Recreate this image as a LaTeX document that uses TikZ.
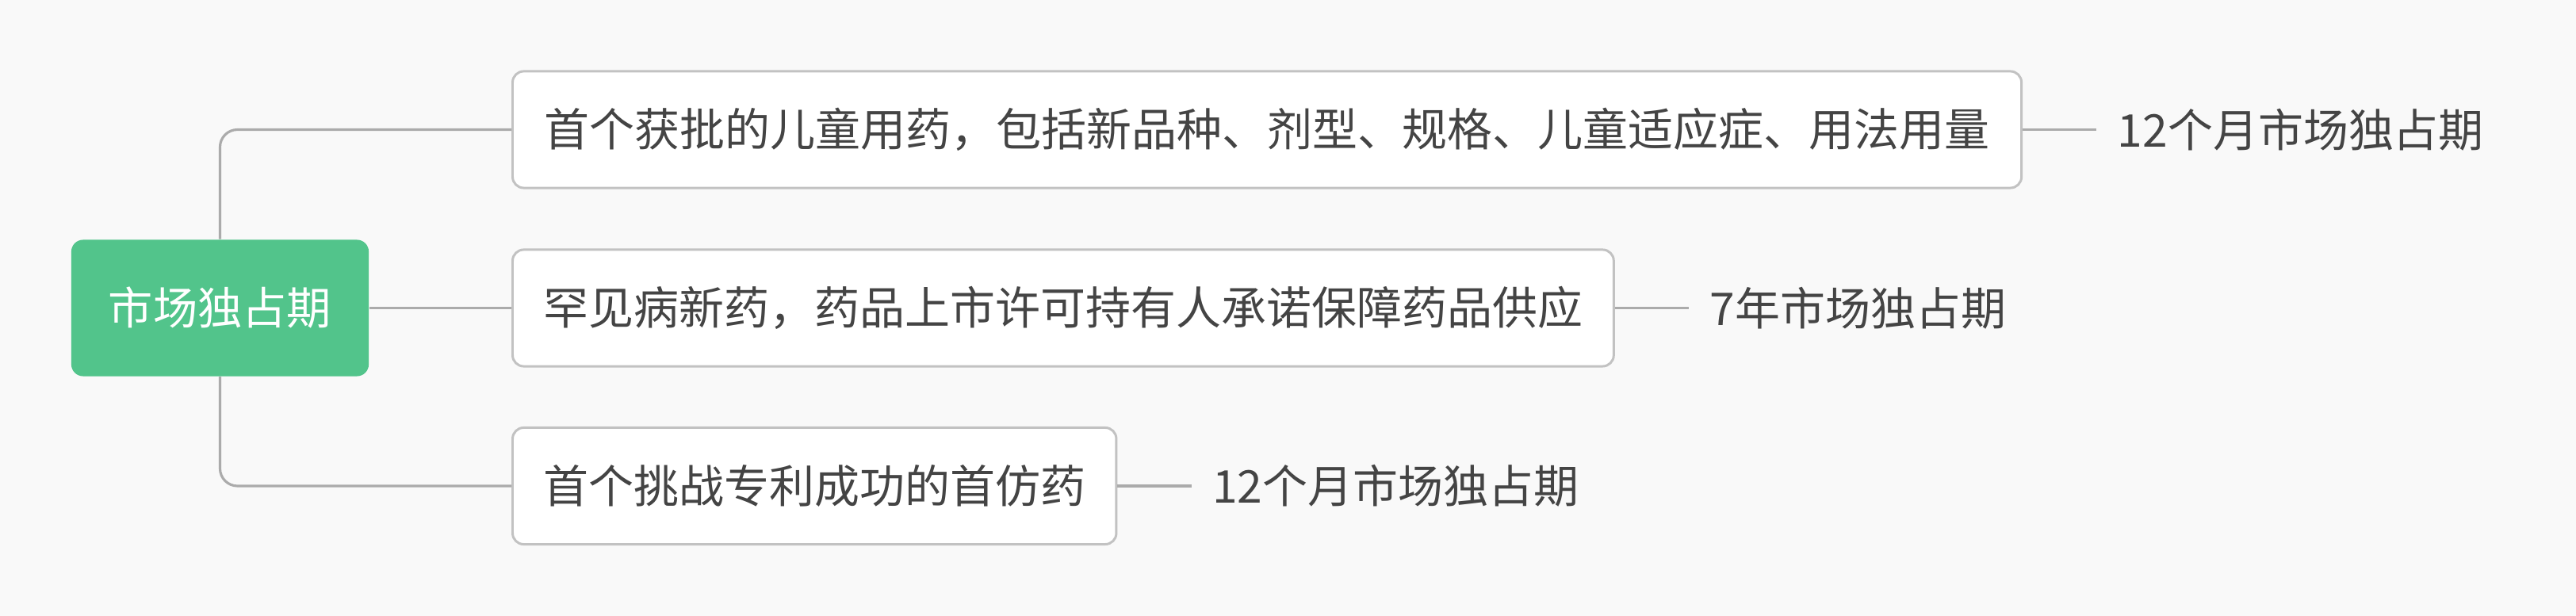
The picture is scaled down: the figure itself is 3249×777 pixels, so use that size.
\documentclass[tikz,border=0pt]{standalone}
\usepackage{fontspec}
\setmainfont{Noto Sans CJK SC}
\usepackage{tikz}
\usetikzlibrary{positioning}
\definecolor{bgcol}{HTML}{F9F9F9}
\definecolor{rootgreen}{HTML}{52C48B}
\definecolor{linegray}{HTML}{ABABAB}
\definecolor{boxgray}{HTML}{C2C2C2}
\definecolor{txtgray}{HTML}{444444}

\begin{document}
\begin{tikzpicture}[x=0.01cm, y=-0.01cm,
    rootbox/.style={fill=rootgreen, rounded corners=0.15cm, minimum width=3.75cm,
        minimum height=1.72cm, text=white, font=\fontsize{16pt}{18pt}\selectfont},
    itembox/.style={draw=boxgray, line width=0.85pt, fill=white, rounded corners=0.14cm,
        minimum height=1.47cm, text=txtgray, font=\fontsize{16.2pt}{18pt}\selectfont},
    periodlabel/.style={inner xsep=0.26cm, inner ysep=0pt, text=txtgray,
        font=\fontsize{16.2pt}{18pt}\selectfont},
    conn/.style={draw=linegray, line width=0.9pt}]
    % Background and margins
    \fill[bgcol] (0,0) rectangle (3249,777);
    \useasboundingbox (0,0) rectangle (3249,777);

    % Central topic
    \node[rootbox] (root) at (277.5,388.5) {市场独占期};

    % Branches
    \node[itembox, minimum width=19.02cm, anchor=west] (drug1) at (645,163.5)
        {首个获批的儿童用药，包括新品种、剂型、规格、儿童适应症、用法用量};
    \node[itembox, minimum width=13.88cm, anchor=west] (drug2) at (645,388.5)
        {罕见病新药，药品上市许可持有人承诺保障药品供应};
    \node[itembox, minimum width=7.61cm, anchor=west] (drug3) at (645,613)
        {首个挑战专利成功的首仿药};

    % Exclusivity periods
    \node[periodlabel, right=0.93cm of drug1] (period1) {12个月市场独占期};
    \node[periodlabel, right=0.93cm of drug2] (period2) {7年市场独占期};
    \node[periodlabel, right=0.93cm of drug3] (period3) {12个月市场独占期};

    % Connectors
    \draw[conn, rounded corners=0.22cm] (root.north) |- (drug1.west);
    \draw[conn] (root.east) -- (drug2.west);
    \draw[conn, rounded corners=0.22cm] (root.south) |- (drug3.west);
    \draw[conn] (drug1.east) -- (period1.west);
    \draw[conn] (drug2.east) -- (period2.west);
    \draw[conn] (drug3.east) -- (period3.west);
\end{tikzpicture}
\end{document}
